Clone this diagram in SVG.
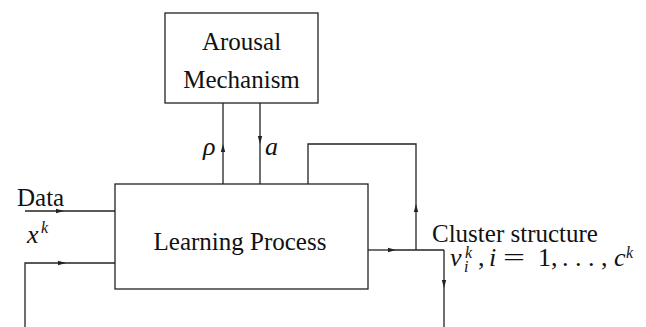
<svg xmlns="http://www.w3.org/2000/svg" width="646" height="327" viewBox="0 0 646 327">
  <style>
    .box { fill: #fff; stroke: #222; stroke-width: 1.3; }
    .wire { fill: none; stroke: #222; stroke-width: 1.3; }
    .lbl { font-family: "Liberation Serif", "Times New Roman", serif; font-size: 25px; fill: #111; }
    .mi { font-family: "Liberation Serif", "Times New Roman", serif; font-style: italic; font-size: 26px; fill: #111; }
    .mr { font-style: normal; }
    .sup { font-size: 16px; }
  </style>
  <defs>
    <marker id="ah" viewBox="0 0 8 6" refX="7" refY="3" markerWidth="8" markerHeight="6" markerUnits="userSpaceOnUse" orient="auto">
      <path d="M0,0.8 L8,3 L0,5.2 Z" fill="#222"/>
    </marker>
  </defs>

  <g id="arousal-mechanism">
    <rect class="box" x="165" y="13" width="153" height="90"/>
    <text class="lbl" x="241.5" y="50" text-anchor="middle">Arousal</text>
    <text class="lbl" x="241.5" y="88" text-anchor="middle">Mechanism</text>
  </g>

  <g id="learning-process">
    <rect class="box" x="115" y="184" width="253" height="105"/>
    <text class="lbl" x="240" y="250" text-anchor="middle">Learning Process</text>
  </g>

  <g id="connectors">
    <!-- data input -->
    <path class="wire" d="M25,211 H63" marker-end="url(#ah)"/>
    <path class="wire" d="M63,211 H115"/>
    <!-- feedback input from below -->
    <path class="wire" d="M25,327 V263 H65" marker-end="url(#ah)"/>
    <path class="wire" d="M65,263 H115"/>
    <!-- rho up to arousal -->
    <path class="wire" d="M223,184 V145" marker-end="url(#ah)"/>
    <path class="wire" d="M223,145 V103"/>
    <!-- a down to learning -->
    <path class="wire" d="M260,103 V143" marker-end="url(#ah)"/>
    <path class="wire" d="M260,143 V184"/>
    <!-- output -->
    <path class="wire" d="M368,250 H395" marker-end="url(#ah)"/>
    <path class="wire" d="M395,250 H444"/>
    <!-- loop back over the top -->
    <path class="wire" d="M416,250 V205" marker-end="url(#ah)"/>
    <path class="wire" d="M416,205 V144 H308 V184"/>
    <!-- output down -->
    <path class="wire" d="M444,250 V287" marker-end="url(#ah)"/>
    <path class="wire" d="M444,287 V327"/>
  </g>

  <g id="labels">
    <text class="lbl" x="17" y="206">Data</text>
    <text class="mi" x="27" y="243">x<tspan class="sup" x="41" y="233">k</tspan></text>
    <text class="mi" x="203" y="155">ρ</text>
    <text class="mi" x="265" y="155">a</text>
    <text class="lbl" x="432" y="242">Cluster structure</text>
    <!-- v_i^k, i = 1, ..., c^k -->
    <text class="mi" x="450" y="266">v<tspan class="sup" x="465" y="258">k</tspan><tspan class="sup" x="464" y="272">i</tspan><tspan class="mr" x="478" y="266">,</tspan><tspan x="489">i</tspan><tspan class="mr" x="538">1,</tspan><tspan class="mr" x="562">. . . ,</tspan><tspan x="614">c</tspan><tspan class="sup" x="626" y="258">k</tspan></text>
    <text class="mi mr" transform="translate(503,266) scale(1.5,1)">=</text>
  </g>
</svg>
